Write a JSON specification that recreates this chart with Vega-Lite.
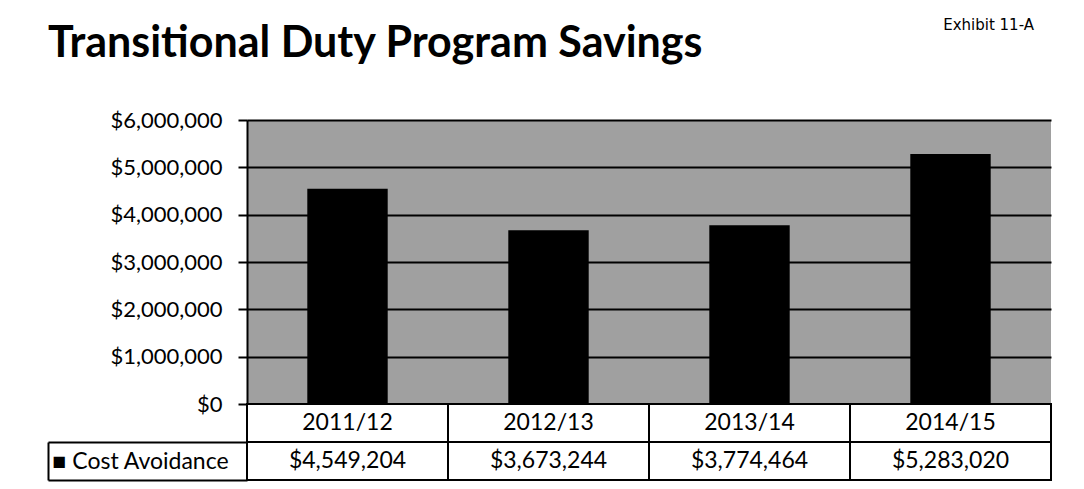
{
  "$schema": "https://vega.github.io/schema/vega-lite/v6.json",
  "padding": {"left": 47, "top": 18, "right": 5, "bottom": 5},
  "background": "white",
  "bounds": "flush",
  "title": {"text": "Exhibit 11-A", "anchor": "end", "font": "DejaVu Sans", "fontSize": 15, "fontWeight": "normal", "color": "black", "dx": -18, "offset": -10},
  "data": {"values": [
    {"period": "2011/12", "value": 4549204},
    {"period": "2012/13", "value": 3673244},
    {"period": "2013/14", "value": 3774464},
    {"period": "2014/15", "value": 5283020}
  ]},
  "spacing": 0,
  "config": {"view": {"stroke": null}},
  "vconcat": [
    {
      "width": 804, "height": 284,
      "title": {"text": "Transitional Duty Program Savings", "anchor": "start", "frame": "group", "dx": -199, "font": "Lato", "fontSize": 43, "fontWeight": "bold", "color": "black", "baseline": "alphabetic", "offset": 9},
      "view": {"fill": "#a0a0a0", "stroke": null},
      "mark": {"type": "bar", "color": "black"},
      "encoding": {
        "x": {"field": "period", "type": "nominal", "sort": null, "axis": null, "scale": {"paddingInner": 0.6, "paddingOuter": 0.3}},
        "y": {"field": "value", "type": "quantitative", "scale": {"domain": [0, 6000000]},
          "axis": {"title": null, "values": [0, 1000000, 2000000, 3000000, 4000000, 5000000, 6000000], "format": "$,.0f",
            "labelFont": "Lato", "labelFontSize": 22, "labelColor": "black", "labelPadding": 16,
            "tickColor": "black", "tickWidth": 2, "tickSize": 9,
            "domainColor": "black", "domainWidth": 2,
            "grid": true, "gridColor": "black", "gridWidth": 2, "gridOpacity": 1}}
      }
    },
    {
      "width": 804, "height": 38,
      "layer": [
        {"mark": {"type": "rect", "fill": "white", "stroke": "black", "strokeWidth": 2},
         "encoding": {"x": {"field": "period", "type": "nominal", "sort": null, "axis": null, "scale": {"paddingInner": 0, "paddingOuter": 0}}}},
        {"mark": {"type": "text", "font": "Lato", "fontSize": 23, "color": "black"},
         "encoding": {"x": {"field": "period", "type": "nominal", "sort": null, "axis": null}, "text": {"field": "period"}}}
      ]
    },
    {
      "width": 804, "height": 38,
      "encoding": {
        "x": {"field": "period", "type": "nominal", "sort": null, "axis": null, "scale": {"paddingInner": 0, "paddingOuter": 0}},
        "y": {"datum": "Cost Avoidance", "type": "nominal", "scale": {"type": "band", "paddingInner": 0, "paddingOuter": 0},
          "axis": {"title": null, "orient": "left", "offset": 199, "domainColor": "black", "domainWidth": 2,
            "tickBand": "extent", "tickSize": -199, "tickColor": "black", "tickWidth": 2,
            "labelExpr": "datum.label ? '■ ' + datum.label : ''", "labelAlign": "left", "labelPadding": 195,
            "labelFont": "Lato", "labelFontSize": 23, "labelColor": "black"}}
      },
      "layer": [
        {"mark": {"type": "rect", "fill": "white", "stroke": "black", "strokeWidth": 2}},
        {"mark": {"type": "text", "font": "Lato", "fontSize": 23, "color": "black"},
         "encoding": {"text": {"field": "value", "format": "$,.0f"}}}
      ]
    }
  ]
}
